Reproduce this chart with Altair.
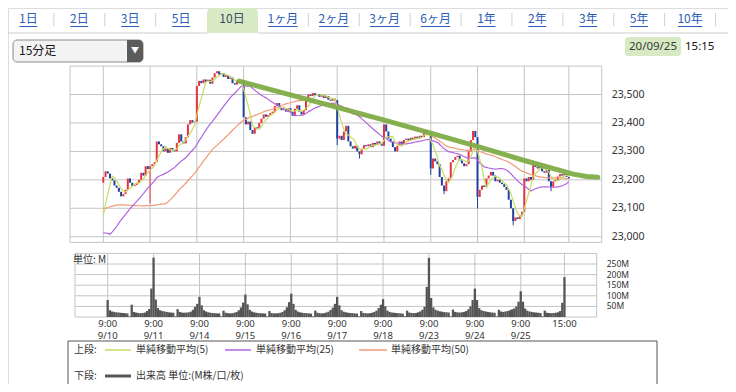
import altair as alt
import pandas as pd

# ---------------- data ----------------
days = ["9/10", "9/11", "9/14", "9/15", "9/16", "9/17", "9/18", "9/23", "9/24", "9/25"]
tabs = ["1日", "2日", "3日", "5日", "10日", "1ヶ月", "2ヶ月", "3ヶ月", "6ヶ月",
        "1年", "2年", "3年", "5年", "10年"]
selected_tab = "10日"

# 15-minute closes, 21 bars per day (9:00 ... 15:00)
close_0910 = [23210, 23230, 23222, 23205, 23198, 23180, 23172, 23158, 23142, 23150, 23165,
              23205, 23190, 23178, 23182, 23190, 23200, 23225, 23215, 23248, 23238]
close_0911 = [23248, 23255, 23262, 23335, 23325, 23318, 23300, 23310, 23295, 23312, 23305,
              23300, 23330, 23360, 23335, 23328, 23350, 23395, 23410, 23402, 23405]
close_0914 = [23530, 23548, 23540, 23553, 23545, 23552, 23538, 23560, 23575, 23582, 23570,
              23575, 23562, 23568, 23555, 23560, 23540, 23535, 23548, 23540, 23550]
close_0915 = [23420, 23395, 23405, 23375, 23362, 23385, 23378, 23400, 23415, 23430, 23422,
              23428, 23435, 23440, 23460, 23470, 23455, 23445, 23448, 23440, 23452]
close_0916 = [23440, 23425, 23450, 23462, 23440, 23430, 23445, 23480, 23500, 23495, 23505,
              23498, 23502, 23492, 23498, 23488, 23495, 23482, 23478, 23485, 23480]
close_0917 = [23345, 23355, 23340, 23370, 23390, 23335, 23318, 23310, 23320, 23300, 23290,
              23310, 23322, 23318, 23325, 23315, 23330, 23322, 23335, 23328, 23320]
close_0918 = [23395, 23370, 23345, 23335, 23315, 23300, 23320, 23335, 23325, 23340, 23345,
              23338, 23348, 23342, 23352, 23345, 23355, 23350, 23375, 23362, 23365]
close_0923 = [23240, 23275, 23265, 23255, 23210, 23180, 23160, 23195, 23205, 23262, 23270,
              23280, 23285, 23268, 23258, 23248, 23255, 23300, 23340, 23372, 23350]
close_0924 = [23140, 23165, 23180, 23175, 23205, 23215, 23228, 23215, 23195, 23200, 23190,
              23185, 23175, 23165, 23130, 23100, 23055, 23068, 23062, 23075, 23088]
close_0925 = [23205, 23195, 23210, 23200, 23255, 23245, 23240, 23250, 23230, 23225, 23235,
              23195, 23175, 23195, 23200, 23212, 23220, 23215, 23222, 23210, 23205]
first_open = 23190

# closes before 9/10 (9/7 tail, 9/8, 9/9): not drawn, only feed the moving averages
prior_closes = [23080, 23090, 23070, 23085, 23095, 23080, 23090, 23089,
                23150, 23180, 23200, 23210, 23200, 23190, 23210, 23220, 23215, 23230, 23225,
                23220, 23230, 23240, 23235, 23245, 23250, 23255, 23250, 23260, 23274,
                23000, 22950, 22900, 22880, 22870, 22900, 22930, 22950, 22940, 22960, 22970,
                22980, 22975, 22990, 22985, 23000, 23010, 23030, 23045, 23050, 23040]

# long lower / upper shadows that stand out
wick_idx = [21, 105, 115, 147, 153, 168, 184, 201, 193]
wick_end = [23117, 23322, 23275, 23218, 23150, 23100, 23040, 23160, 23268]

# volume, millions
vol_0910 = [80, 32, 26, 24, 22, 21, 20, 19, 18, 17, 3, 58, 24, 21, 19, 18, 19, 21, 28, 38, 134]
vol_0911 = [280, 82, 42, 32, 28, 26, 24, 22, 21, 20, 3, 37, 24, 21, 20, 21, 22, 25, 34, 48, 62]
vol_0914 = [95, 55, 32, 26, 22, 20, 19, 18, 17, 17, 3, 30, 20, 18, 17, 18, 20, 24, 32, 45, 68]
vol_0915 = [106, 60, 34, 26, 22, 20, 19, 18, 17, 16, 3, 28, 19, 17, 17, 18, 20, 24, 32, 46, 70]
vol_0916 = [110, 62, 34, 26, 22, 20, 19, 18, 17, 16, 3, 30, 20, 18, 17, 18, 21, 25, 33, 44, 62]
vol_0917 = [95, 55, 32, 25, 22, 20, 19, 18, 17, 16, 3, 28, 19, 18, 17, 18, 20, 24, 30, 42, 58]
vol_0918 = [84, 50, 30, 24, 21, 20, 19, 18, 17, 16, 3, 30, 21, 19, 18, 19, 22, 26, 34, 48, 142]
vol_0923 = [279, 90, 45, 34, 30, 27, 25, 23, 22, 21, 3, 35, 24, 22, 21, 22, 24, 28, 36, 50, 80]
vol_0924 = [134, 80, 42, 32, 28, 26, 24, 22, 21, 20, 3, 34, 26, 24, 26, 28, 32, 36, 40, 50, 72]
vol_0925 = [121, 72, 40, 30, 26, 24, 22, 21, 20, 19, 3, 30, 20, 19, 18, 19, 20, 22, 28, 67, 188]

# hand-drawn resistance line (bar index, price)
trend_idx = [61, 84, 105, 127, 147, 169, 189, 211, 217, 222]
trend_val = [23547, 23499, 23455, 23408, 23364, 23315, 23268, 23220, 23212, 23209]

price_ticks = [23000, 23100, 23200, 23300, 23400, 23500]
vol_ticks = [50, 100, 150, 200, 250]
time_labels = ["9:00"] * 10 + ["15:00"]
date_labels = days + [""]
bars_per_day = 21

# ---------------- frames ----------------
closes = sum([close_0910, close_0911, close_0914, close_0915, close_0916,
              close_0917, close_0918, close_0923, close_0924, close_0925], [])
vols = sum([vol_0910, vol_0911, vol_0914, vol_0915, vol_0916,
            vol_0917, vol_0918, vol_0923, vol_0924, vol_0925], [])
n = len(closes)
opens = [first_open] + closes[:-1]
full = pd.Series(prior_closes + closes, dtype=float)
df = pd.DataFrame({
    "idx": list(range(n)), "open": opens, "close": closes, "vol": vols,
    "ma5": full.rolling(5).mean().iloc[-n:].values,
    "ma25": full.rolling(25).mean().iloc[-n:].values,
    "ma50": full.rolling(50).mean().iloc[-n:].values,
})
df["dir"] = ["up" if c >= o else "down" for o, c in zip(df.open, df.close)]
wick_df = pd.DataFrame({"idx": wick_idx, "end": wick_end})
wick_df["body"] = [min(df.open[i], df.close[i]) if e < min(df.open[i], df.close[i])
                   else max(df.open[i], df.close[i]) for i, e in zip(wick_idx, wick_end)]
wick_df["dir"] = [df.dir[i] for i in wick_idx]
trend_df = pd.DataFrame({"idx": trend_idx, "v": trend_val})
xt_df = pd.DataFrame({"i": [d * bars_per_day for d in range(len(days))] + [n - 1],
                      "t1": time_labels, "t2": date_labels})
pt_df = pd.DataFrame({"v": price_ticks, "lab": [f"{v:,}" for v in price_ticks]})
vt_df = pd.DataFrame({"v": vol_ticks, "lab": [f"{v}M" for v in vol_ticks]})
tab_df = pd.DataFrame({"tab": tabs, "i": list(range(len(tabs)))})
tab_df["sel"] = tab_df.tab == selected_tab
tab_df["nd"] = [sum(ch.isdigit() for ch in t) for t in tabs]
tab_df["nc"] = [sum(not ch.isdigit() for ch in t) for t in tabs]
one = pd.DataFrame({"k": [0]})

# ---------------- styles ----------------
RED, BLUE = "#e5343f", "#213f9c"
C5, C25, C50 = "#c6dc62", "#b064e0", "#f19a78"
TREND = "#80ad48"
GRID = "#c4c4c4"
TXT = "#333333"
LINK = "#2b5cb8"
JP = "Noto Sans CJK JP"
NUM = "Noto Sans"

XMIN, XMAX = -14.95, 223.75
PMIN, PMAX = 22980, 23600
XS = alt.Scale(domain=[XMIN, XMAX], range=[62, 593.7], nice=False, zero=False)
YP = alt.Scale(domain=[PMIN, PMAX], range=[234.4, 58.1], nice=False, zero=False)
YV = alt.Scale(domain=[0, 300], range=[309, 245.4], nice=False, zero=False)


def xq(f):
    return alt.X(f, scale=XS, axis=None)


def xdat(v):
    return alt.XDatum(v, type="quantitative", scale=XS, axis=None)


# ---------------- price panel ----------------
p_h = alt.Chart(pt_df).mark_rule(color=GRID, strokeWidth=1).encode(
    x=xdat(XMIN), x2=alt.X2Datum(XMAX), y=alt.Y("v:Q", scale=YP, axis=None))
p_v = alt.Chart(xt_df).mark_rule(color=GRID, strokeWidth=1).encode(
    x=xq("i:Q"), y=alt.YDatum(PMIN, type="quantitative", scale=YP, axis=None),
    y2=alt.Y2Datum(PMAX))
p_box = alt.Chart(one).mark_rect(fillOpacity=0, stroke=GRID, strokeWidth=1).encode(
    x=xdat(XMIN), x2=alt.X2Datum(XMAX),
    y=alt.YDatum(PMIN, type="quantitative", scale=YP, axis=None), y2=alt.Y2Datum(PMAX))
cscale = alt.Scale(domain=["up", "down"], range=[RED, BLUE])
wicks = alt.Chart(wick_df).mark_rule(strokeWidth=1).encode(
    x=xq("idx:Q"), y=alt.Y("end:Q", scale=YP, axis=None), y2="body:Q",
    color=alt.Color("dir:N", scale=cscale, legend=None))
candles = alt.Chart(df).mark_rule(strokeWidth=2).encode(
    x=xq("idx:Q"), y=alt.Y("open:Q", scale=YP, axis=None), y2="close:Q",
    color=alt.Color("dir:N", scale=cscale, legend=None))
ma_layers = [alt.Chart(df).mark_line(color=c, strokeWidth=1.2).encode(
    x=xq("idx:Q"), y=alt.Y(f"{m}:Q", scale=YP, axis=None))
    for m, c in [("ma50", C50), ("ma25", C25), ("ma5", C5)]]
trend = alt.Chart(trend_df).mark_line(color=TREND, strokeWidth=5, strokeCap="round",
                                       strokeJoin="round", opacity=0.95).encode(
    x=xq("idx:Q"), y=alt.Y("v:Q", scale=YP, axis=None))
p_lab = alt.Chart(pt_df).mark_text(align="left", baseline="middle", dx=10, fontSize=10.5,
                                   font=NUM, color=TXT).encode(
    x=xdat(XMAX), y=alt.Y("v:Q", scale=YP, axis=None), text="lab:N")
price = alt.layer(p_h, p_v, p_box, wicks, candles, *ma_layers, trend, p_lab)

# ---------------- volume panel ----------------
v_h = alt.Chart(vt_df).mark_rule(color=GRID, strokeWidth=1).encode(
    x=xdat(XMIN), x2=alt.X2Datum(XMAX), y=alt.Y("v:Q", scale=YV, axis=None))
v_v = alt.Chart(xt_df).mark_rule(color=GRID, strokeWidth=1).encode(
    x=xq("i:Q"), y=alt.YDatum(0, type="quantitative", scale=YV, axis=None),
    y2=alt.Y2Datum(300))
v_box = alt.Chart(one).mark_rect(fillOpacity=0, stroke=GRID, strokeWidth=1).encode(
    x=xdat(XMIN), x2=alt.X2Datum(XMAX),
    y=alt.YDatum(0, type="quantitative", scale=YV, axis=None), y2=alt.Y2Datum(300))
v_bars = alt.Chart(df).mark_bar(size=2.3, color="#555555").encode(
    x=xq("idx:Q"), y=alt.Y("vol:Q", scale=YV, axis=None), y2=alt.Y2Datum(0))
v_lab = alt.Chart(vt_df).mark_text(align="left", baseline="middle", dx=10, fontSize=8.5,
                                   font=NUM, color=TXT).encode(
    x=xdat(XMAX), y=alt.Y("v:Q", scale=YV, axis=None), text="lab:N")
x_lab1 = alt.Chart(xt_df).mark_text(baseline="middle", dy=6.5, fontSize=9.5, font=NUM,
                                    color=TXT).encode(
    x=xq("i:Q"), y=alt.YDatum(0, type="quantitative", scale=YV, axis=None), text="t1:N")
x_lab2 = alt.Chart(xt_df).mark_text(baseline="middle", dy=18.5, fontSize=9.5, font=NUM,
                                    color=TXT).encode(
    x=xq("i:Q"), y=alt.YDatum(0, type="quantitative", scale=YV, axis=None), text="t2:N")
unit = alt.Chart(one).mark_text(text="単位: M", align="left", baseline="middle", fontSize=10,
                                font=JP, color=TXT).encode(x=alt.value(65), y=alt.value(252))
volume = alt.layer(v_h, v_v, v_box, v_bars, v_lab, x_lab1, x_lab2, unit)


# ---------------- page chrome ----------------
def rect(x1, x2, y1, y2, **kw):
    return alt.Chart(one).mark_rect(**kw).encode(
        x=alt.value(x1), x2=alt.value(x2), y=alt.value(y1), y2=alt.value(y2))


def text(s, x, y, **kw):
    base = dict(align="left", baseline="middle", fontSize=11, font=JP, color=TXT)
    base.update(kw)
    return alt.Chart(one).mark_text(text=s, **base).encode(x=alt.value(x), y=alt.value(y))


def hline(x1, x2, y, **kw):
    return alt.Chart(one).mark_rule(**kw).encode(
        x=alt.value(x1), x2=alt.value(x2), y=alt.value(y))


tab_base = alt.Chart(tab_df).transform_calculate(
    cx="20.4 + datum.i * 50.9", w="6.4 * datum.nd + 11.5 * datum.nc")
tab_bg = rect(199, 250, 0, 25, fill="#d7eac4", cornerRadiusTopLeft=5, cornerRadiusTopRight=5)
panel_top = [hline(0, 199, 25, color="#cccccc"), hline(250, 720, 25, color="#cccccc")]
tab_text = tab_base.mark_text(fontSize=12, font=JP, baseline="middle").encode(
    x=alt.X("cx:Q", scale=None), y=alt.value(11), text="tab:N",
    color=alt.condition("datum.sel", alt.value("#3a4a6a"), alt.value(LINK)))
tab_line = tab_base.transform_filter("!datum.sel").transform_calculate(
    ux1="datum.cx - datum.w / 2", ux2="datum.cx + datum.w / 2").mark_rule(
    strokeWidth=1, color=LINK).encode(
    x=alt.X("ux1:Q", scale=None), x2="ux2:Q", y=alt.value(18.5))
tab_sep = tab_base.transform_filter("datum.i != 3 && datum.i != 4").transform_calculate(
    sx="datum.cx + 25.45").mark_rule(color="#d0d0d0").encode(
    x=alt.X("sx:Q", scale=None), y=alt.value(5), y2=alt.value(18))

dropdown = [
    rect(5, 135, 32, 54, fill="#f3f3f3", stroke="#8a8a8a", strokeWidth=1, cornerRadius=4),
    rect(119, 135, 32, 54, fill="#5c5c5c", cornerRadiusTopRight=4, cornerRadiusBottomRight=4),
    text("▼", 127, 43, align="center", fontSize=8, color="#ffffff"),
    text("15分足", 11, 43, fontSize=12, color="#111111"),
]
stamp = [
    rect(617, 673, 29, 48, fill="#d7eac4", cornerRadius=3),
    text("20/09/25", 645, 38.5, align="center", fontSize=11.5, font=NUM, color="#3a3a3a"),
    text("15:15", 677, 38.5, fontSize=11.5, font=NUM, color="#111111"),
]
legend = [
    rect(60, 649, 333, 381, fill="#ffffff", stroke="#555555", strokeWidth=1),
    text("上段:", 66, 342, fontSize=10),
    hline(97, 123, 342, color=C5, strokeWidth=1.5),
    text("単純移動平均(5)", 128, 342, fontSize=10),
    hline(217, 243, 342, color=C25, strokeWidth=1.5),
    text("単純移動平均(25)", 248, 342, fontSize=10),
    hline(351, 379, 342, color=C50, strokeWidth=1.5),
    text("単純移動平均(50)", 383, 342, fontSize=10),
    text("下段:", 66, 368, fontSize=10),
    hline(97, 123, 368, color="#555555", strokeWidth=3),
    text("出来高 単位:(M株/口/枚)", 128, 368, fontSize=10),
]

chart = alt.layer(
    tab_bg, *panel_top, tab_sep, tab_text, tab_line, *dropdown, *stamp,
    price, volume, *legend,
).resolve_scale(x="independent", y="independent").properties(
    width=720, height=376, padding=0,
    autosize=alt.AutoSizeParams(type="none"),
).configure_view(stroke=None).configure(background="#ffffff")

chart.save("out.html", embed_options={"renderer": "svg", "actions": False})
